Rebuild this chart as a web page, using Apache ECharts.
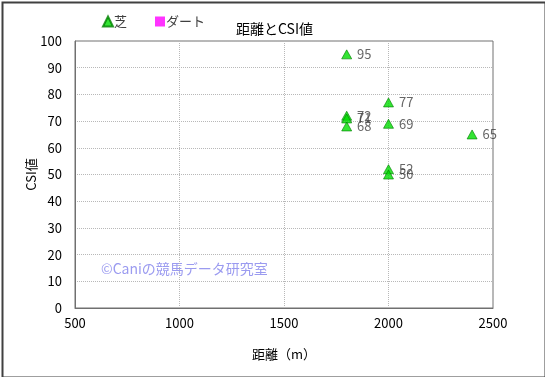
<!DOCTYPE html>
<html>
<head>
<meta charset="utf-8">
<script src="https://cdn.jsdelivr.net/npm/echarts@6/dist/echarts.min.js"></script>
<style>
  html, body { margin: 0; padding: 0; background: #fff; }
  #chart { width: 545px; height: 377px; }
</style>
</head>
<body>
<div id="chart"></div>
<script>
// 芝 のデータ（距離, CSI値）
const turfDistance = [1800, 1800, 1800, 1800, 2000, 2000, 2000, 2000, 2400]
const turfCsi = [95, 72, 71, 68, 77, 69, 52, 50, 65]
// ダート のデータ（なし）
const dirtDistance = []
const dirtCsi = []

const font = '"Noto Sans CJK JP", sans-serif'

const chart = echarts.init(document.getElementById('chart'))

const option = {
  animation: false,
  textStyle: { fontFamily: font },
  title: {
    text: '距離とCSI値',
    left: 231,
    top: 17,
    textStyle: { fontSize: 14, fontWeight: 'normal', color: '#000', fontFamily: font }
  },
  legend: {
    left: 97,
    top: 10,
    itemGap: 28,
    itemWidth: 10,
    itemHeight: 10,
    textStyle: { fontSize: 13, color: '#404040', fontFamily: font, padding: [0, 0, 0, -4] },
    data: [
      { name: '芝', icon: 'triangle' },
      { name: 'ダート', icon: 'rect' }
    ]
  },
  grid: {
    left: 75,
    right: 52,
    top: 41,
    bottom: 69,
    show: true,
    borderColor: '#707070',
    borderWidth: 1
  },
  xAxis: {
    type: 'value',
    min: 500,
    max: 2500,
    interval: 500,
    name: '距離（m）',
    nameLocation: 'middle',
    nameGap: 40,
    nameMoveOverlap: false,
    nameTextStyle: { fontSize: 13, color: '#000', fontFamily: font },
    axisLine: { show: true, lineStyle: { color: '#707070' } },
    axisTick: { show: false },
    axisLabel: { fontSize: 13, color: '#000', margin: 9, formatter: (v) => String(v) },
    splitLine: { show: true, lineStyle: { color: '#b8b8b8', type: [1, 1], width: 1 } }
  },
  yAxis: {
    type: 'value',
    min: 0,
    max: 100,
    interval: 10,
    name: 'CSI値',
    nameLocation: 'middle',
    nameGap: 37,
    nameMoveOverlap: false,
    nameTextStyle: { fontSize: 13, color: '#000', fontFamily: font },
    axisLine: { show: true, lineStyle: { color: '#707070' } },
    axisTick: { show: false },
    axisLabel: { fontSize: 13, color: '#000', margin: 13 },
    splitLine: { show: true, lineStyle: { color: '#b8b8b8', type: [1, 1], width: 1 } }
  },
  graphic: [
    {
      type: 'rect',
      left: 0,
      top: 0,
      shape: { width: 543, height: 375 },
      style: { fill: 'none', stroke: '#404040', lineWidth: 2 },
      silent: true
    },
    {
      type: 'text',
      left: 101,
      top: 262,
      style: {
        text: '©Caniの競馬データ研究室',
        fill: '#9b9bf0',
        font: '14px ' + font
      },
      silent: true
    }
  ],
  series: [
    {
      name: '芝',
      type: 'scatter',
      symbol: 'triangle',
      symbolSize: [10, 9],
      itemStyle: { color: '#00dd00', borderColor: '#008000', borderWidth: 0.8 },
      label: {
        show: true,
        position: 'right',
        distance: 5,
        color: '#404040',
        fontSize: 13,
        formatter: (p) => p.value[1]
      },
      data: turfDistance.map((d, i) => [d, turfCsi[i]])
    },
    {
      name: 'ダート',
      type: 'scatter',
      symbol: 'rect',
      symbolSize: 9,
      itemStyle: { color: '#ff00ff' },
      data: dirtDistance.map((d, i) => [d, dirtCsi[i]])
    }
  ]
}

chart.setOption(option)
</script>
</body>
</html>
